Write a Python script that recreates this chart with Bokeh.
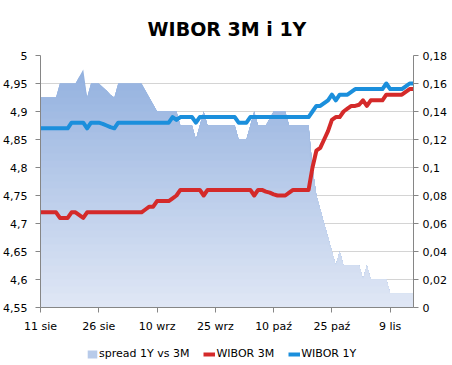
import numpy as np
import pandas as pd
from bokeh.plotting import figure
from bokeh.layouts import column
from bokeh.models import Range1d, LinearAxis, FixedTicker, CustomJSTickFormatter, Legend, LegendItem
from bokeh.embed import file_html
from bokeh.resources import INLINE

# ---------------- data (daily, 11 Aug 2011 - 15 Nov 2011) ----------------
START_DATE = "2011-08-11"
END_DATE = "2011-11-15"

wibor_1y = [
    4.87, 4.87, 4.87, 4.87, 4.87, 4.87, 4.87, 4.87,
    4.88, 4.88, 4.88, 4.88, 4.87, 4.88, 4.88, 4.88,
    4.878, 4.875, 4.872, 4.87,
    4.88, 4.88, 4.88, 4.88, 4.88, 4.88, 4.88, 4.88, 4.88, 4.88, 4.88, 4.88, 4.88, 4.88,
    4.89, 4.885, 4.89, 4.89, 4.89, 4.89, 4.88,
    4.89, 4.89, 4.89, 4.89, 4.89, 4.89, 4.89, 4.89, 4.89, 4.89,
    4.88, 4.88, 4.88,
    4.89, 4.89, 4.89, 4.89, 4.89, 4.89, 4.89, 4.89, 4.89, 4.89, 4.89, 4.89, 4.89, 4.89, 4.89, 4.89,
    4.90, 4.91, 4.91, 4.915, 4.92, 4.93, 4.92, 4.93, 4.93, 4.93, 4.935,
    4.94, 4.94, 4.94, 4.94, 4.94, 4.94, 4.94, 4.94,
    4.95, 4.94, 4.94, 4.94, 4.94, 4.945, 4.95, 4.95,
]

wibor_3m = [
    4.72, 4.72, 4.72, 4.72, 4.72,
    4.71, 4.71, 4.71,
    4.72, 4.72, 4.715, 4.71,
    4.72, 4.72, 4.72, 4.72, 4.72, 4.72, 4.72, 4.72, 4.72, 4.72, 4.72, 4.72, 4.72, 4.72, 4.72,
    4.725, 4.73, 4.73, 4.74, 4.74, 4.74, 4.74, 4.745, 4.75,
    4.76, 4.76, 4.76, 4.76, 4.76, 4.76,
    4.75,
    4.76, 4.76, 4.76, 4.76, 4.76, 4.76, 4.76, 4.76, 4.76, 4.76, 4.76, 4.76,
    4.75, 4.76, 4.76, 4.757, 4.755, 4.752, 4.75, 4.75, 4.75, 4.755,
    4.76, 4.76, 4.76, 4.76, 4.76,
    4.80, 4.83, 4.835, 4.85, 4.865, 4.885, 4.89, 4.89, 4.90, 4.905,
    4.91, 4.91, 4.912, 4.92, 4.91, 4.92, 4.92, 4.92, 4.92,
    4.93, 4.93, 4.93, 4.93, 4.93, 4.935, 4.94, 4.94,
]

spread_1y_3m = [
    0.15, 0.15, 0.15, 0.15, 0.15,
    0.16, 0.16, 0.16, 0.16, 0.16, 0.165, 0.17, 0.15, 0.16, 0.16, 0.16,
    0.1575, 0.155, 0.152, 0.15,
    0.16, 0.16, 0.16, 0.16, 0.16, 0.16, 0.16,
    0.155, 0.15, 0.145,
    0.14, 0.14, 0.14, 0.14, 0.14, 0.14,
    0.13, 0.13, 0.13, 0.13, 0.12, 0.13, 0.14,
    0.13, 0.13, 0.13, 0.13, 0.13, 0.13, 0.13, 0.13,
    0.12, 0.12, 0.12, 0.13, 0.14, 0.13, 0.13, 0.13, 0.135,
    0.14, 0.14, 0.14, 0.14,
    0.13, 0.13, 0.13, 0.13, 0.13, 0.13,
    0.10, 0.08, 0.07, 0.06, 0.05, 0.04, 0.03, 0.04,
    0.03, 0.03, 0.03, 0.03, 0.03, 0.02, 0.03,
    0.02, 0.02, 0.02, 0.02, 0.02,
    0.01, 0.01, 0.01, 0.01, 0.01, 0.01, 0.01,
]

series_names = ["spread 1Y vs 3M", "WIBOR 3M", "WIBOR 1Y"]
tick_dates = ["2011-08-11", "2011-08-26", "2011-09-10", "2011-09-25",
              "2011-10-10", "2011-10-25", "2011-11-09"]
tick_labels = ["11 sie", "26 sie", "10 wrz", "25 wrz", "10 paź", "25 paź", "9 lis"]
left_ticks = [4.55, 4.6, 4.65, 4.7, 4.75, 4.8, 4.85, 4.9, 4.95, 5.0]
right_ticks = [0.0, 0.02, 0.04, 0.06, 0.08, 0.1, 0.12, 0.14, 0.16, 0.18]

# ---------------- derived positions ----------------
dates = pd.date_range(START_DATE, END_DATE, freq="D")
assert len(dates) == len(wibor_1y) == len(wibor_3m) == len(spread_1y_3m)
x = np.array((dates - dates[0]).days, dtype=float)
tick_x = [float((pd.Timestamp(d) - dates[0]).days) for d in tick_dates]

FONT = "DejaVu Sans"
AXIS_COL = "#868686"
RED = "#d42a2a"
BLUE = "#1b8fdc"

p = figure(width=452, height=340, output_backend="svg", toolbar_location=None,
           x_range=Range1d(x[0], x[-1]), y_range=Range1d(left_ticks[0], left_ticks[-1]),
           min_border_left=38, min_border_right=39, min_border_top=52, min_border_bottom=33,
           background_fill_color="white", border_fill_color="white", outline_line_color=None)
p.extra_y_ranges = {"spread": Range1d(right_ticks[0], right_ticks[-1])}

p.title.text = "WIBOR 3M i 1Y"
p.title.align = "center"
p.title.text_font = FONT
p.title.text_font_style = "bold"
p.title.text_font_size = "19px"
p.title.text_color = "#000000"
p.title.standoff = 31

num_fmt = CustomJSTickFormatter(code="""
let s = tick.toFixed(2);
s = s.replace(/0+$/, '').replace(/\\.$/, '');
return s.replace('.', ',');
""")

# ---------------- spread area with vertical gradient ----------------
sp = np.array(spread_1y_3m)
vmax = max(spread_1y_3m)
top_c = np.array([0x93, 0xb1, 0xdf], dtype=float)
bot_c = np.array([0xe0, 0xe7, 0xf5], dtype=float)
N = 34
band_colors = {}
for k in range(N - 1, -1, -1):
    b = vmax * (k + 1) / N
    t = (k + 0.5) / N
    c = bot_c + (top_c - bot_c) * t
    col = "#%02x%02x%02x" % tuple(int(round(v)) for v in c)
    band_colors[k] = col
    p.varea(x=x, y1=np.zeros_like(sp), y2=np.minimum(sp, b), fill_color=col,
            y_range_name="spread")

# ---------------- lines ----------------
p.line(x, wibor_3m, line_color=RED, line_width=4, line_join="round")
p.line(x, wibor_1y, line_color=BLUE, line_width=4, line_join="round")

# ---------------- axes ----------------
yl = p.yaxis[0]
yl.ticker = FixedTicker(ticks=left_ticks)
yl.formatter = num_fmt
yl.major_label_standoff = 8

yr = LinearAxis(y_range_name="spread", ticker=FixedTicker(ticks=right_ticks), formatter=num_fmt)
yr.major_label_standoff = 4
p.add_layout(yr, "right")

xa = p.xaxis[0]
xa.ticker = FixedTicker(ticks=tick_x)
xa.formatter = CustomJSTickFormatter(args=dict(tpos=tick_x, tlab=tick_labels), code="""
const i = tpos.indexOf(tick);
return i >= 0 ? tlab[i] : '';
""")
xa.major_label_standoff = 7

for ax in (yl, yr, xa):
    ax.axis_line_color = AXIS_COL
    ax.major_tick_line_color = AXIS_COL
    ax.minor_tick_line_color = None
    ax.major_tick_out = 5
    ax.major_tick_in = 0
    ax.major_label_text_font = FONT
    ax.major_label_text_font_size = "11px"
    ax.major_label_text_color = "#000000"

p.xgrid.visible = False
p.ygrid.ticker = FixedTicker(ticks=left_ticks)
p.ygrid.grid_line_color = "#d4d4d4"

# ---------------- legend strip (separate small figure) ----------------
lg = figure(width=452, height=25, output_backend="svg", toolbar_location=None,
            x_axis_location=None, y_axis_location=None,
            x_range=Range1d(0, 1), y_range=Range1d(0, 1),
            min_border_left=0, min_border_right=0, min_border_top=0, min_border_bottom=0,
            outline_line_color=None, background_fill_color="white", border_fill_color="white")
lg.xgrid.visible = False
lg.ygrid.visible = False
# legend-only renderers: their data sits outside the strip's visible range
la = lg.varea(x=[5, 6], y1=[5, 5], y2=[6, 6], fill_color=band_colors[N // 2])
l3 = lg.line(x=[5, 6], y=[5, 5], line_color=RED, line_width=4)
l1 = lg.line(x=[5, 6], y=[5, 5], line_color=BLUE, line_width=4)
legend = Legend(items=[
    LegendItem(label=series_names[0], renderers=[la]),
    LegendItem(label=series_names[1], renderers=[l3]),
    LegendItem(label=series_names[2], renderers=[l1]),
], orientation="horizontal", location=(46, 5),
    glyph_width=12, glyph_height=10, label_standoff=1, spacing=14,
    padding=0, margin=0, border_line_color=None, background_fill_alpha=0,
    label_text_font=FONT, label_text_font_size="11px", label_text_color="#000000")
lg.add_layout(legend)

page = column(p, lg, spacing=0)
open("out.html", "w").write(file_html(page, INLINE))
